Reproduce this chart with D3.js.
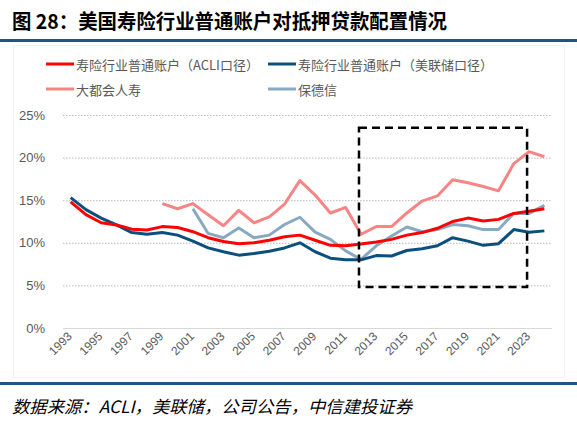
<!DOCTYPE html>
<html>
<head>
<meta charset="utf-8">
<script src="https://cdn.jsdelivr.net/npm/d3@7"></script>
<style>
  html, body { margin: 0; padding: 0; background: #fff; }
  svg { display: block; }
</style>
</head>
<body>
<svg id="chart" width="577" height="427"></svg>
<script>
'use strict';

// ── Data ─────────────────────────────────────────────────────────────────
const years = d3.range(1993, 2025).map(String);
const tickYears = years.filter((d, i) => i % 2 === 0);
const yTicks = [0, 5, 10, 15, 20, 25];

const acli = [14.8, 13.3, 12.35, 12.1, 11.6, 11.5, 11.9, 11.8, 11.3, 10.6,
  10.15, 9.9, 10.0, 10.3, 10.7, 10.9, 10.3, 9.7, 9.65, 9.85,
  10.1, 10.4, 10.9, 11.2, 11.7, 12.5, 12.9, 12.55, 12.75, 13.45, 13.7, 14.0];
const fed = [15.3, 13.9, 12.9, 12.1, 11.2, 11.0, 11.2, 10.9, 10.2, 9.4,
  8.95, 8.55, 8.75, 9.0, 9.4, 10.0, 8.95, 8.2, 8.0, 8.0,
  8.5, 8.45, 9.1, 9.3, 9.65, 10.6, 10.2, 9.7, 9.9, 11.55, 11.25, 11.4];
const metlife = [null, null, null, null, null, null, 14.6, 14.0, 14.6, 13.3,
  12.0, 13.8, 12.35, 13.05, 14.55, 17.3, 15.6, 13.5, 14.15, 11.0,
  11.9, 11.9, 13.5, 14.9, 15.5, 17.4, 17.05, 16.6, 16.1, 19.3, 20.7, 20.1];
const prudential = [null, null, null, null, null, null, null, null, 14.0, 11.1,
  10.6, 11.75, 10.6, 10.9, 12.15, 13.0, 11.25, 10.4, 9.05, 8.05,
  9.65, 10.8, 11.85, 11.3, 11.55, 12.15, 12.0, 11.55, 11.55, 13.45, 13.45, 14.4];

const seriesNames = ['寿险行业普通账户（ACLI口径）', '寿险行业普通账户（美联储口径）', '大都会人寿', '保德信'];
const seriesColors = ['#ff0000', '#0c4f7d', '#f88585', '#87a9c2'];
const seriesValues = [acli, fed, metlife, prudential];

// highlighted window: years and value range of the dashed box
const boxYears = ['2012', '2023'];
const boxRange = [4.8, 23.5];

// ── Layout ───────────────────────────────────────────────────────────────
const svg = d3.select('#chart');
const FONT = '"Liberation Sans", Arial, sans-serif';
const CJK = '"Noto Sans CJK SC", sans-serif';

const x = d3.scaleBand().domain(years).range([63, 552]);
const px = d => x(d) + x.bandwidth() / 2;
const y = d3.scaleLinear().domain([0, 25]).range([328, 115]);

// Title
svg.append('text')
  .attr('x', 12).attr('y', 29)
  .attr('font-family', CJK).attr('font-weight', 'bold')
  .attr('font-size', '20.5px').attr('fill', '#000')
  .attr('textLength', 435).attr('lengthAdjust', 'spacingAndGlyphs')
  .text('图 28：美国寿险行业普通账户对抵押贷款配置情况');

svg.append('rect').attr('x', 0).attr('y', 39).attr('width', 577).attr('height', 3).attr('fill', '#1f5582');
svg.append('rect').attr('x', 0).attr('y', 382).attr('width', 577).attr('height', 3).attr('fill', '#1f5582');

// faint chart frame
svg.append('rect').attr('x', 13.5).attr('y', 45.5).attr('width', 551).attr('height', 332)
  .attr('fill', 'none').attr('stroke', '#f2f2f2');

// Legend
const legend = svg.append('g');
seriesNames.forEach((name, i) => {
  const lx = i % 2 === 0 ? 46 : 268;
  const ly = i < 2 ? 64 : 89;
  const item = legend.append('g').attr('transform', `translate(${lx},${ly})`);
  item.append('line').attr('x1', 0).attr('x2', 28).attr('y1', 0).attr('y2', 0)
    .attr('stroke', seriesColors[i]).attr('stroke-width', 3);
  item.append('text').attr('x', 30).attr('y', 0).attr('dominant-baseline', 'central')
    .attr('font-family', CJK).attr('font-size', '13px').attr('fill', '#595959')
    .text(name);
});

// Grid
const plot = svg.append('g');
plot.append('g')
  .call(d3.axisLeft(y).tickValues(yTicks).tickSize(-(552 - 63)).tickFormat(d => d + '%'))
  .attr('transform', 'translate(63,0)')
  .call(ax => ax.select('.domain').remove())
  .call(ax => ax.selectAll('.tick line')
    .attr('stroke', d => d === 0 ? '#d9d9d9' : '#a6a6a6')
    .attr('stroke-dasharray', d => d === 0 ? null : '1.5,1.5')
    .attr('stroke-width', d => d === 0 ? 1 : 0.8))
  .call(ax => ax.selectAll('.tick text')
    .attr('x', -18).attr('fill', '#595959')
    .attr('font-family', FONT).attr('font-size', '13px'));

// X axis labels
plot.append('g')
  .attr('transform', 'translate(0,328)')
  .call(d3.axisBottom(x).tickValues(tickYears).tickSize(0))
  .call(ax => ax.select('.domain').remove())
  .call(ax => ax.selectAll('.tick text')
    .attr('fill', '#595959').attr('font-family', FONT).attr('font-size', '12px')
    .attr('text-anchor', 'end').attr('dy', 0).attr('y', 0)
    .attr('transform', 'translate(2,9) rotate(-45)'));

// Lines (light ones underneath)
const line = d3.line()
  .defined(d => d.v !== null)
  .x(d => px(d.year))
  .y(d => y(d.v));

[3, 2, 1, 0].forEach(i => {
  const pts = years.map((year, j) => ({ year, v: seriesValues[i][j] }));
  plot.append('path')
    .datum(pts)
    .attr('fill', 'none')
    .attr('stroke', seriesColors[i])
    .attr('stroke-width', 3)
    .attr('stroke-linejoin', 'round')
    .attr('d', line);
});

// Dashed highlight box
plot.append('rect')
  .attr('x', px(boxYears[0]) - 2)
  .attr('y', y(boxRange[1]))
  .attr('width', px(boxYears[1]) - px(boxYears[0]))
  .attr('height', y(boxRange[0]) - y(boxRange[1]))
  .attr('fill', 'none')
  .attr('stroke', '#000')
  .attr('stroke-width', 2.5)
  .attr('stroke-dasharray', '8,5');

// Source
svg.append('text')
  .attr('x', 12).attr('y', 413)
  .attr('font-family', CJK).attr('font-style', 'italic')
  .attr('font-size', '17px').attr('fill', '#000')
  .attr('textLength', 400).attr('lengthAdjust', 'spacingAndGlyphs')
  .text('数据来源：ACLI，美联储，公司公告，中信建投证券');
</script>
</body>
</html>
